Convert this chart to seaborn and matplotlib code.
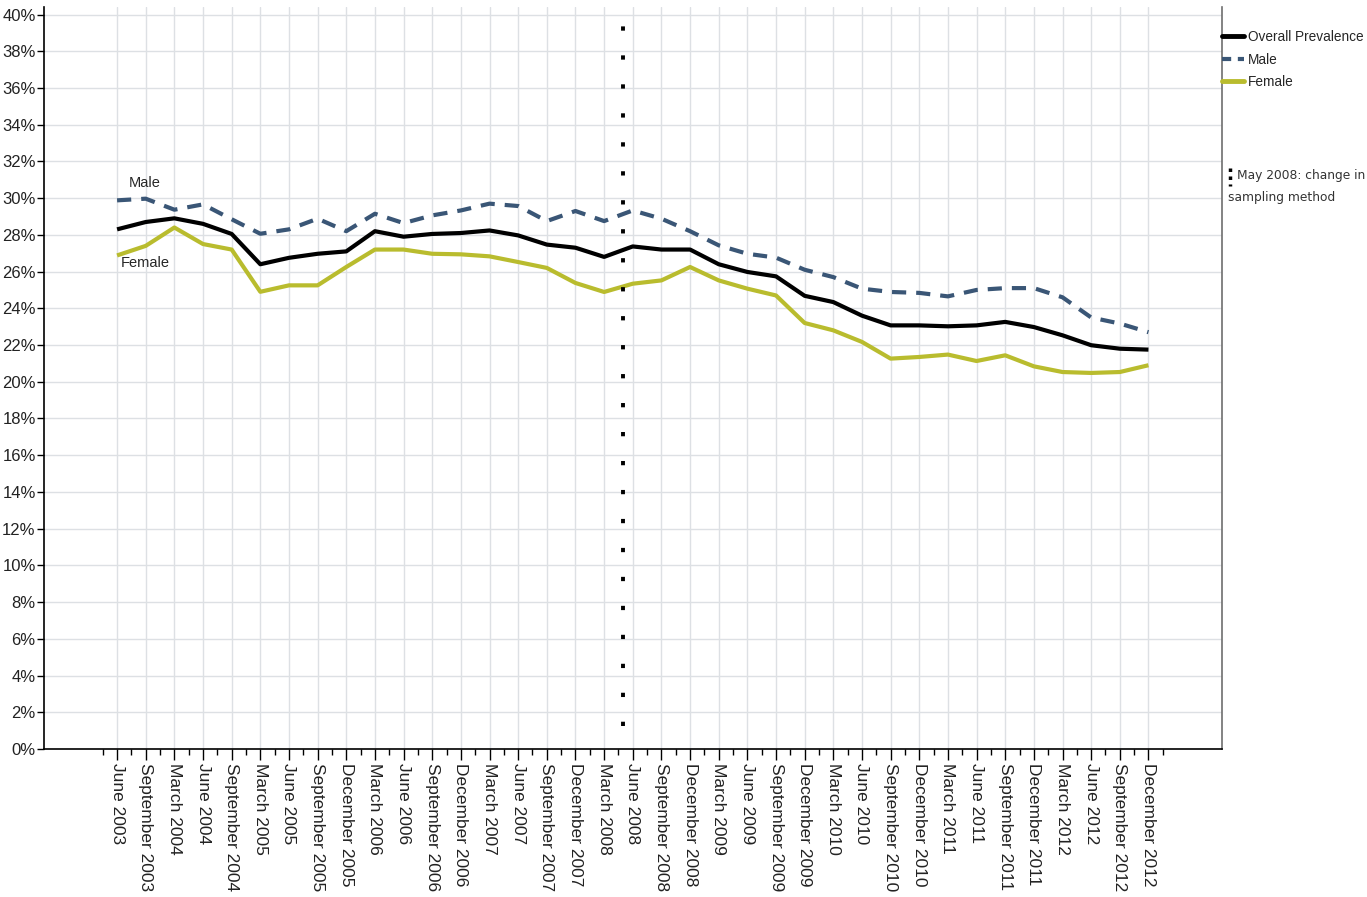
import numpy as np
import pandas as pd
import seaborn as sns
import matplotlib.pyplot as plt
from matplotlib.lines import Line2D
from matplotlib.ticker import PercentFormatter

# quarters shown on the x axis
quarters = ["June 2003", "September 2003", "March 2004", "June 2004", "September 2004",
            "March 2005", "June 2005", "September 2005", "December 2005", "March 2006",
            "June 2006", "September 2006", "December 2006", "March 2007", "June 2007",
            "September 2007", "December 2007", "March 2008", "June 2008", "September 2008",
            "December 2008", "March 2009", "June 2009", "September 2009", "December 2009",
            "March 2010", "June 2010", "September 2010", "December 2010", "March 2011",
            "June 2011", "September 2011", "December 2011", "March 2012", "June 2012",
            "September 2012", "December 2012"]

overall = [28.3, 28.7, 28.9, 28.6, 28.05, 26.4, 26.75, 26.97, 27.1, 28.2,
           27.9, 28.05, 28.1, 28.24, 27.97, 27.47, 27.3, 26.8, 27.37, 27.2,
           27.2, 26.4, 25.98, 25.74, 24.68, 24.34, 23.6, 23.07, 23.07, 23.02,
           23.07, 23.26, 22.98, 22.53, 21.99, 21.8, 21.75]

male = [29.88, 29.97, 29.37, 29.66, 28.85, 28.06, 28.3, 28.88, 28.2, 29.15,
        28.64, 29.06, 29.33, 29.7, 29.57, 28.75, 29.3, 28.75, 29.33, 28.88,
        28.2, 27.43, 26.97, 26.76, 26.1, 25.7, 25.07, 24.89, 24.84, 24.65,
        25.0, 25.1, 25.1, 24.6, 23.5, 23.17, 22.7]

female = [26.88, 27.4, 28.4, 27.5, 27.2, 24.9, 25.25, 25.25, 26.25, 27.2,
          27.2, 26.97, 26.94, 26.83, 26.52, 26.2, 25.38, 24.89, 25.34, 25.52,
          26.25, 25.52, 25.07, 24.7, 23.2, 22.8, 22.17, 21.26, 21.35, 21.48,
          21.13, 21.44, 20.84, 20.53, 20.48, 20.53, 20.9]

series_names = ["Overall Prevalence", "Male", "Female"]
colors = {"Overall Prevalence": "#000000", "Male": "#3a5676", "Female": "#b9bc2e"}

# May 2008 falls two thirds of the way between March and June 2008
change_pos = quarters.index("March 2008") + 2 / 3

n = len(quarters)
df = pd.DataFrame({
    "pos": np.tile(np.arange(n), 3),
    "value": overall + male + female,
    "series": np.repeat(series_names, n),
})

sns.set_style("white")
plt.rcParams["font.family"] = ["Liberation Sans", "DejaVu Sans"]

fig = plt.figure(figsize=(13.67, 8.97), dpi=100)
ax = fig.add_axes([0.0322, 0.165, 0.862, 0.827])

ax.grid(True, which="major", color="#dde0e4", lw=1)
ax.set_axisbelow(True)

sns.lineplot(data=df, x="pos", y="value", hue="series", style="series",
             palette=colors, dashes={"Overall Prevalence": "", "Male": (3.4, 2.4), "Female": ""},
             linewidth=3, legend=False, ax=ax, zorder=3)
for line in ax.lines:
    line.set_solid_capstyle("butt")

# change in sampling method
ax.vlines(change_pos, 1.25, 39.4, colors="black", linestyles=(0, (1.1, 6.35)), lw=2.8, zorder=4)

ax.text(0.98, 30.8, "Male", fontsize=10.5, ha="center", va="center")
ax.text(0.98, 26.45, "Female", fontsize=10.5, ha="center", va="center")

ax.set_xlim(-2.55, n - 1 + 2.58)
ax.set_ylim(0, 40.4)
ax.set_yticks(np.arange(0, 41, 2))
ax.yaxis.set_major_formatter(PercentFormatter(decimals=0))
ax.set_xticks(np.arange(n))
ax.set_xticklabels(quarters, rotation=-90, fontsize=12.5, color="#222222")
ax.set_xticks(np.arange(-0.5, n, 1.0), minor=True)
ax.tick_params(axis="x", which="major", length=8, width=1, color="black", pad=2, bottom=True)
ax.tick_params(axis="x", which="minor", length=4, width=1, color="black", bottom=True)
ax.tick_params(axis="y", length=5, width=1, color="black", labelsize=12, labelcolor="#222222", pad=1, left=True)
ax.set_xlabel("")
ax.set_ylabel("")

for side in ["left", "bottom"]:
    ax.spines[side].set_color("black")
    ax.spines[side].set_linewidth(1.2)
ax.spines["right"].set_color("#6e6e6e")
ax.spines["right"].set_linewidth(1.2)
ax.spines["top"].set_visible(False)

handles = [Line2D([], [], color=colors["Overall Prevalence"], lw=3.5),
           Line2D([], [], color=colors["Male"], lw=3, dashes=(2.2, 1.6)),
           Line2D([], [], color=colors["Female"], lw=3.5)]
ax.legend(handles, series_names, loc="upper left", bbox_to_anchor=(1.0, 0.969),
          frameon=False, handlelength=1.6, handletextpad=0.25, labelspacing=0.62,
          borderaxespad=0, borderpad=0, prop={"size": 9.8})

# note beside the legend, with its own little dotted marker
fig.add_artist(Line2D([1230 / 1367, 1230 / 1367], [1 - 168 / 897, 1 - 186 / 897],
                      transform=fig.transFigure, color="black", lw=2.5,
                      linestyle=(0, (1, 1.3))))
fig.text(1237 / 1367, 1 - 176 / 897, "May 2008: change in", fontsize=8.8,
         ha="left", va="center", color="#333333", family="DejaVu Sans")
fig.text(1228 / 1367, 1 - 197 / 897, "sampling method", fontsize=8.8,
         ha="left", va="center", color="#333333", family="DejaVu Sans")

fig.savefig("out.png", dpi=100)
